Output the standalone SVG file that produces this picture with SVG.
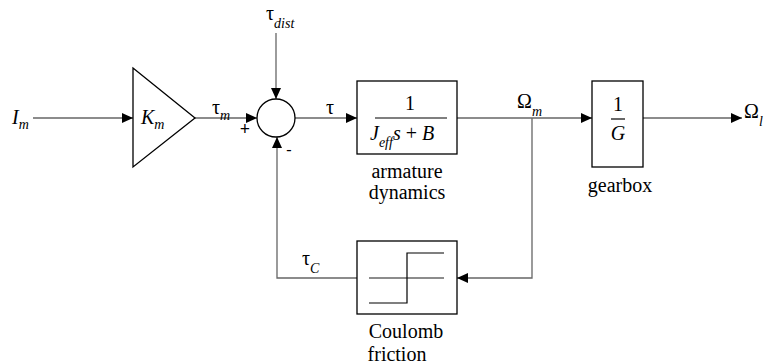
<svg xmlns="http://www.w3.org/2000/svg" width="766" height="364" viewBox="0 0 766 364">
<style>
text{font-family:'Liberation Serif','Times New Roman',serif;fill:#000;font-size:20px}
.i{font-style:italic}
.s{font-size:14px;font-style:italic}
.c{text-anchor:middle}
.w{stroke:#666;stroke-width:1.3;fill:none}
.b{stroke:#000;stroke-width:1.3;fill:#fff}
.k{stroke:#000;stroke-width:1.2;fill:none}
</style>
<defs>
<marker id="a" markerWidth="11" markerHeight="10" refX="11" refY="5" orient="auto" markerUnits="userSpaceOnUse">
<path d="M0,0 L11,5 L0,10 Z" fill="#000"/>
</marker>
</defs>
<g id="connectors">
<path class="w" d="M33,118 H133" marker-end="url(#a)"/>
<path class="w" d="M195,118 H257" marker-end="url(#a)"/>
<path class="w" d="M276,33 V99" marker-end="url(#a)"/>
<path class="w" d="M295,118 H357" marker-end="url(#a)"/>
<path class="w" d="M457,118 H592" marker-end="url(#a)"/>
<path class="w" d="M643,118 H742" marker-end="url(#a)"/>
<path class="w" d="M532,118 V278 H457" marker-end="url(#a)"/>
<path class="w" d="M357,278 H277 V137" marker-end="url(#a)"/>
</g>
<g id="input">
<text class="i" x="12" y="124">I<tspan class="s" dy="5">m</tspan></text>
</g>
<g id="gain">
<path class="b" d="M133,68 L195,118 L133,167 Z"/>
<text class="i" x="141" y="124">K<tspan class="s" dy="5">m</tspan></text>
</g>
<g id="tau_m"><text x="212" y="114">τ<tspan class="s" dy="6">m</tspan></text></g>
<g id="tau_dist"><text x="266" y="20">τ<tspan class="s" dy="8">dist</tspan></text></g>
<g id="sum">
<circle class="b" cx="276" cy="118" r="19"/>
<text x="245" y="135" class="c" style="font-size:18px;font-weight:bold">+</text>
<text x="289" y="155" class="c" style="font-size:16px">-</text>
</g>
<g id="tau"><text x="330" y="114" class="c">τ</text></g>
<g id="armature">
<rect class="b" x="357" y="81" width="100" height="73"/>
<text x="410" y="110" class="c">1</text>
<line class="k" x1="375" y1="118" x2="447" y2="118"/>
<text class="i" x="370" y="140">J<tspan class="s" dy="7">eff</tspan><tspan dy="-7" font-style="italic">s</tspan><tspan font-style="normal"> + </tspan><tspan font-style="italic">B</tspan></text>
<text x="407" y="178" class="c">armature</text>
<text x="407" y="199" class="c">dynamics</text>
</g>
<g id="omega_m"><text x="517" y="108">Ω<tspan class="s" dy="8">m</tspan></text></g>
<g id="gearbox">
<rect class="b" x="592" y="81" width="51" height="86"/>
<text x="618" y="111" class="c">1</text>
<line class="k" x1="611" y1="119" x2="625" y2="119"/>
<text x="618" y="140" class="c i">G</text>
<text x="620" y="192" class="c">gearbox</text>
</g>
<g id="omega_l"><text x="744" y="118">Ω<tspan class="s" dy="8">l</tspan></text></g>
<g id="coulomb">
<rect class="b" x="357" y="241" width="100" height="73"/>
<line class="w" x1="369" y1="278" x2="444" y2="278"/>
<path class="k" d="M369,303 H407 V253 H444"/>
<text x="406" y="338" class="c">Coulomb</text>
<text x="397" y="361" class="c">friction</text>
</g>
<g id="tau_c"><text x="302" y="265">τ<tspan class="s" dy="8">C</tspan></text></g>
</svg>
